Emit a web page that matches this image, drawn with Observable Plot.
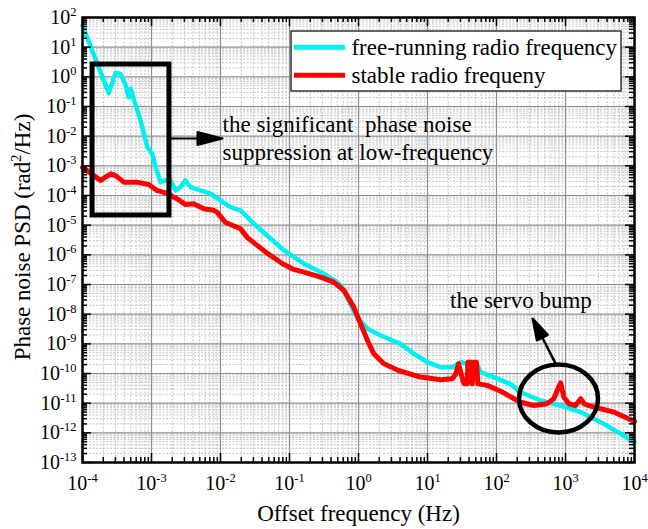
<!DOCTYPE html>
<html><head><meta charset="utf-8">
<script src="https://cdn.jsdelivr.net/npm/d3@7"></script>
<script src="https://cdn.jsdelivr.net/npm/@observablehq/plot@0.6"></script>
<style>body{margin:0;background:#fff} svg text{white-space:pre}</style>
</head><body><div id="chart"></div>
<script>
// ---- data ----
const freeFreq = [1e-4, 2.40e-4, 3.02e-4, 3.55e-4, 4.17e-4, 4.68e-4, 5.01e-4, 5.50e-4, 6.92e-4, 8.71e-4,
  1.02e-3, 1.15e-3, 1.35e-3, 1.58e-3, 1.88e-3, 2.24e-3, 2.63e-3, 3.09e-3, 3.67e-3, 5.13e-3, 7.16e-3,
  0.01, 0.01396, 0.0195, 0.0302, 0.0501, 0.0832, 0.162, 0.316, 0.490, 0.575, 0.759, 0.955,
  1.35, 2.09, 4.07, 6.31, 10, 15.5, 22.9, 30.2, 35.5, 39.8, 50.1, 58.9, 91.2,
  158, 224, 437, 851, 1660, 3236, 6310, 10000];
const freePSD = [53.7, 0.282, 1.38, 1.26, 0.575, 0.204, 0.398, 0.182, 0.0339, 4.27e-3,
  2.57e-3, 8.91e-4, 2.82e-4, 3.24e-4, 3.24e-4, 1.48e-4, 1.91e-4, 3.24e-4, 1.91e-4, 1.48e-4, 1.15e-4,
  6.76e-5, 4.07e-5, 3.16e-5, 1.15e-5, 3.98e-6, 1.41e-6, 5.01e-7, 2.29e-7, 1.20e-7, 8.13e-8, 2.24e-8, 7.94e-9,
  3.24e-9, 1.91e-9, 1.0e-9, 4.68e-10, 2.40e-10, 1.62e-10, 1.62e-10, 2.40e-10, 2.14e-10, 2.51e-10, 2.40e-10, 1.12e-10, 7.59e-11,
  4.47e-11, 2.34e-11, 1.23e-11, 8.32e-12, 5.01e-12, 2.29e-12, 9.33e-13, 4.90e-13];

const stableFreq = [1e-4, 1.82e-4, 2.57e-4, 3.02e-4, 3.98e-4, 6.17e-4, 9.12e-4, 1.20e-3, 1.70e-3, 2.34e-3,
  3.09e-3, 4.07e-3, 5.75e-3, 7.94e-3, 8.91e-3, 0.0117, 0.0195, 0.0245, 0.0479, 0.0794, 0.112, 0.162,
  0.282, 0.437, 0.617, 0.851, 1.07, 1.35, 1.66, 2.34, 3.80, 7.94, 15.5, 22.9, 25.7, 28.2, 31.6,
  33.9, 37.6, 38.5, 41.7, 44.4, 46.9, 51.3, 53.7, 73.3, 115, 224, 347, 537, 676, 794, 851, 946,
  1122, 1396, 1660, 1862, 2188, 3236, 5012, 10000];
const stablePSD = [8.91e-4, 3.24e-4, 5.37e-4, 4.68e-4, 2.82e-4, 2.82e-4, 2.34e-4, 1.48e-4, 1.15e-4, 7.76e-5,
  5.01e-5, 5.25e-5, 3.55e-5, 3.16e-5, 2.75e-5, 1.26e-5, 7.59e-6, 3.80e-6, 1.12e-6, 5.01e-7, 3.31e-7, 2.63e-7,
  1.78e-7, 1.20e-7, 6.31e-8, 1.74e-8, 4.79e-9, 1.29e-9, 4.68e-10, 2.14e-10, 1.26e-10, 7.59e-11, 6.17e-11, 6.61e-11, 9.77e-11, 2.14e-10, 7.59e-11,
  4.47e-11, 4.47e-11, 2.40e-10, 2.40e-10, 4.47e-11, 2.40e-10, 2.40e-10, 4.47e-11, 3.98e-11, 2.51e-11, 1.07e-11, 8.32e-12, 9.55e-12, 1.41e-11, 3.47e-11, 4.79e-11, 1.58e-11,
  9.55e-12, 8.32e-12, 1.41e-11, 9.55e-12, 8.32e-12, 6.46e-12, 5.01e-12, 2.40e-12];

const seriesNames = ["free-running radio frequency", "stable radio frequeny"];
const seriesColors = ["#00f0f0", "#ff0000"];

const xTickValues = [1e-4, 1e-3, 1e-2, 1e-1, 1e0, 1e1, 1e2, 1e3, 1e4];
const xTickLabels = ["10^{-4}", "10^{-3}", "10^{-2}", "10^{-1}", "10^{0}", "10^{1}", "10^{2}", "10^{3}", "10^{4}"];
const yTickValues = [1e2, 1e1, 1e0, 1e-1, 1e-2, 1e-3, 1e-4, 1e-5, 1e-6, 1e-7, 1e-8, 1e-9, 1e-10, 1e-11, 1e-12, 1e-13];
const yTickLabels = ["10^{2}", "10^{1}", "10^{0}", "10^{-1}", "10^{-2}", "10^{-3}", "10^{-4}", "10^{-5}", "10^{-6}",
  "10^{-7}", "10^{-8}", "10^{-9}", "10^{-10}", "10^{-11}", "10^{-12}", "10^{-13}"];

const xTitle = "Offset frequency (Hz)";
const yTitle = "Phase noise PSD (rad^{2}/Hz)";

// annotations (data coordinates)
const legendBoxX = [0.107, 6486];
const legendBoxY = [33.7, 0.321];
const legendLineX = [0.118, 0.649];
const legendTextX = [0.79];
const legendY = [10.0, 1.12];

const boxX = [1.40e-4, 1.82e-3];
const boxY = [2.6, 2.12e-5];
const noteText = ["the significant  phase noise", "suppression at low-frequency", "the servo bump"];
const noteX = [0.0107, 0.0107, 226];
const noteY = [0.0248, 0.00282, 2.76e-8];
const arrowX = [1.82e-3, 716];
const arrowY = [8.36e-3, 2.19e-10];
const bumpX = [793];
const bumpY = [1.44e-11];

// ---- build ----
const W = 648, H = 529, mL = 82, mR = 14, mT = 17, mB = 67;
const innerW = W - mL - mR, innerH = H - mT - mB;

const freeData = freeFreq.map((f, i) => ({f, p: freePSD[i]}));
const stableData = stableFreq.map((f, i) => ({f, p: stablePSD[i]}));
const legendRows = seriesNames.map((name, i) => ({name, color: seriesColors[i], y: legendY[i]}));
const notes = noteText.map((t, i) => ({t, x: noteX[i], y: noteY[i]}));

const minorX = d3.range(-4, 4).flatMap(k => d3.range(2, 10).map(m => m * 10 ** k));
const minorY = d3.range(-13, 2).flatMap(k => d3.range(2, 10).map(m => m * 10 ** k));

const filledArrow = (headLen, headHalf) => ({
  draw(ctx, l) {
    ctx.moveTo(0, 0);
    ctx.lineTo(0, -(l - headLen + 2));
    ctx.moveTo(0, -l);
    ctx.lineTo(-headHalf, -(l - headLen));
    ctx.lineTo(headHalf, -(l - headLen));
    ctx.closePath();
  }
});
const ellipseSymbol = {
  draw(ctx) {
    const rx = 39.5, ry = 34, k = 0.5523;
    ctx.moveTo(rx, 0);
    ctx.bezierCurveTo(rx, ry * k, rx * k, ry, 0, ry);
    ctx.bezierCurveTo(-rx * k, ry, -rx, ry * k, -rx, 0);
    ctx.bezierCurveTo(-rx, -ry * k, -rx * k, -ry, 0, -ry);
    ctx.bezierCurveTo(rx * k, -ry, rx, -ry * k, rx, 0);
    ctx.closePath();
  }
};

const tickStyle = {stroke: "black", strokeWidth: 1.5};

const chart = Plot.plot({
  width: W, height: H,
  marginLeft: mL, marginRight: mR, marginTop: mT, marginBottom: mB,
  x: {type: "log", domain: [1e-4, 1e4]},
  y: {type: "log", domain: [1e-13, 1e2]},
  style: {fontFamily: "'Liberation Serif', 'Times New Roman', serif", fontSize: "20px", color: "black", background: "white"},
  marks: [
    Plot.gridX(minorX, {stroke: "#bdbdbd", strokeOpacity: 1, strokeWidth: 0.9, strokeDasharray: "2,1.5"}),
    Plot.gridY(minorY, {stroke: "#bdbdbd", strokeOpacity: 1, strokeWidth: 0.9, strokeDasharray: "2,1.5"}),
    Plot.gridX(xTickValues, {stroke: "#8f8f8f", strokeOpacity: 1, strokeWidth: 1.2}),
    Plot.gridY(yTickValues, {stroke: "#8f8f8f", strokeOpacity: 1, strokeWidth: 1.2}),
    Plot.line(freeData, {x: "f", y: "p", stroke: seriesColors[0], strokeWidth: 4.5, strokeLinejoin: "round"}),
    Plot.line(stableData, {x: "f", y: "p", stroke: seriesColors[1], strokeWidth: 5, strokeLinejoin: "round"}),
    // legend
    Plot.rect([0], {x1: () => legendBoxX[0], x2: () => legendBoxX[1], y1: () => legendBoxY[0], y2: () => legendBoxY[1],
      fill: "white", stroke: "#333", strokeWidth: 1.5}),
    Plot.ruleY(legendRows, {y: "y", x1: () => legendLineX[0], x2: () => legendLineX[1], stroke: "color", strokeWidth: 5}),
    Plot.text(legendRows, {x: () => legendTextX[0], y: "y", text: "name", textAnchor: "start", fontSize: 23}),
    // annotations
    Plot.rect([0], {x1: () => boxX[0], x2: () => boxX[1], y1: () => boxY[0], y2: () => boxY[1],
      fill: "none", stroke: "black", strokeWidth: 5}),
    Plot.vector([0], {x: () => arrowX[0], y: () => arrowY[0], anchor: "start", length: 53, rotate: 90,
      shape: filledArrow(25, 6.5), fill: "black", stroke: "black", strokeWidth: 2}),
    Plot.vector([0], {x: () => arrowX[1], y: () => arrowY[1], anchor: "start", length: 50, rotate: -27,
      shape: filledArrow(21, 6), fill: "black", stroke: "black", strokeWidth: 2.5}),
    Plot.dot([0], {x: () => bumpX[0], y: () => bumpY[0], symbol: ellipseSymbol, r: 30, fill: "none", stroke: "black", strokeWidth: 4.5}),
    Plot.text(notes.slice(0, 2), {x: "x", y: "y", text: "t", textAnchor: "start", fontSize: 23}),
    Plot.text(notes.slice(2), {x: "x", y: "y", text: "t", textAnchor: "middle", fontSize: 23}),
    // frame and inward ticks
    Plot.frame({stroke: "black", strokeWidth: 2.5}),
    Plot.tickX(xTickValues, {x: d => d, insetTop: innerH - 9, ...tickStyle}),
    Plot.tickX(minorX, {x: d => d, insetTop: innerH - 5, ...tickStyle}),
    Plot.tickX(xTickValues, {x: d => d, insetBottom: innerH - 9, ...tickStyle}),
    Plot.tickX(minorX, {x: d => d, insetBottom: innerH - 5, ...tickStyle}),
    Plot.tickY(yTickValues, {y: d => d, insetRight: innerW - 9, ...tickStyle}),
    Plot.tickY(minorY, {y: d => d, insetRight: innerW - 5, ...tickStyle}),
    Plot.tickY(yTickValues, {y: d => d, insetLeft: innerW - 9, ...tickStyle}),
    Plot.tickY(minorY, {y: d => d, insetLeft: innerW - 5, ...tickStyle}),
    // axes labels
    Plot.axisX(xTickValues, {anchor: "bottom", tickSize: 0, tickPadding: 13, label: null, fontSize: 20,
      tickFormat: d => xTickLabels[xTickValues.indexOf(d)]}),
    Plot.axisY(yTickValues, {anchor: "left", tickSize: 0, tickPadding: 6, label: null, fontSize: 20,
      tickFormat: d => yTickLabels[yTickValues.indexOf(d)]}),
    Plot.text([xTitle], {frameAnchor: "bottom", lineAnchor: "middle", textAnchor: "middle", dy: 51, fontSize: 23}),
    Plot.text([yTitle], {frameAnchor: "left", lineAnchor: "middle", textAnchor: "middle", dx: -60, dy: -3, rotate: -90, fontSize: 23})
  ]
});

document.getElementById("chart").appendChild(chart);

// render "^{...}" as raised superscripts
const NS = "http://www.w3.org/2000/svg";
chart.querySelectorAll("text").forEach(t => {
  t.setAttributeNS("http://www.w3.org/XML/1998/namespace", "xml:space", "preserve");
  const s = t.textContent;
  if (!s.includes("^{")) return;
  const fs = parseFloat(getComputedStyle(t).fontSize) || 20;
  const parts = s.split(/(\^\{[^}]*\})/);
  t.textContent = "";
  let raised = false;
  for (const p of parts) {
    if (!p) continue;
    const ts = document.createElementNS(NS, "tspan");
    if (p.startsWith("^{")) {
      ts.textContent = p.slice(2, -1);
      ts.setAttribute("font-size", (fs * 0.62).toFixed(1));
      ts.setAttribute("dy", (-fs * 0.4).toFixed(1));
      raised = true;
    } else {
      ts.textContent = p;
      if (raised) { ts.setAttribute("dy", (fs * 0.4).toFixed(1)); raised = false; }
    }
    t.appendChild(ts);
  }
});
</script>
</body></html>
